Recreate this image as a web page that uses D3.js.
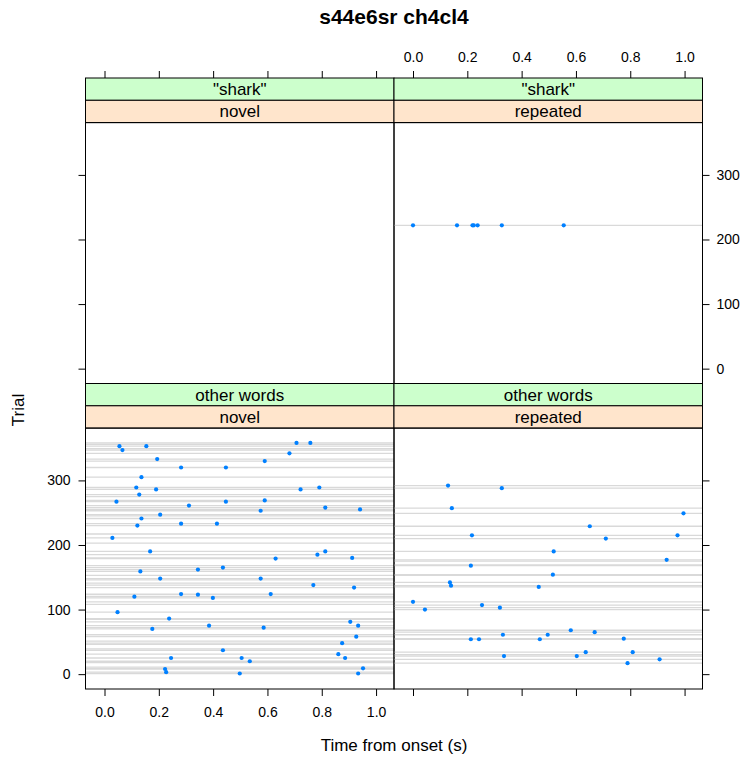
<!DOCTYPE html>
<html>
<head>
<meta charset="utf-8">
<script src="https://cdn.jsdelivr.net/npm/d3@7"></script>
<style>
  body { margin: 0; background: #fff; }
  text { font-family: "Liberation Sans", Arial, Helvetica, sans-serif; }
</style>
</head>
<body>
<svg id="chart" width="749" height="759"></svg>
<script>
// strip labels
var words = ['"shark"', 'other words'];
var conditions = ['novel', 'repeated'];

// axis ticks
var timeTicks = [0, 0.2, 0.4, 0.6, 0.8, 1.0];
var trialTicks = [0, 100, 200, 300];

// trials shown as grey lines, per panel
var novelSharkTrials = [];
var repeatedSharkTrials = [222];
var novelOtherTrials = [1, 3, 8, 9, 11, 18, 20, 25, 31, 37, 39, 46, 48, 51, 58, 61, 70, 72, 75, 81,
    85, 86, 96, 108, 112, 118, 120, 123, 124, 134, 138, 141, 146, 148, 153, 159, 162, 165, 168,
    179, 180, 185, 190, 203, 211, 217, 230, 233, 241, 245, 247, 253, 255, 258, 261, 267, 269,
    275, 278, 286, 289, 305, 320, 330, 333, 342, 347, 349, 353, 356, 358];
var repeatedOtherTrials = [17, 23, 28, 30, 34, 54, 55, 61, 65, 68, 100, 103, 107, 112, 135, 137,
    142, 153, 154, 168, 169, 175, 177, 190, 210, 215, 229, 249, 257, 288, 292];

// spikes: [trial, time from onset]
var novelSharkSpikes = [];
var repeatedSharkSpikes = [[222, 0.0], [222, 0.162], [222, 0.219], [222, 0.224], [222, 0.238],
    [222, 0.327], [222, 0.555]];
var novelOtherSpikes = [[353, 0.055], [347, 0.066], [353, 0.154], [333, 0.194], [320, 0.282],
    [320, 0.447], [305, 0.136], [289, 0.117], [286, 0.190], [278, 0.128], [267, 0.044],
    [267, 0.447], [261, 0.311], [241, 0.136], [247, 0.205], [230, 0.121], [233, 0.282],
    [233, 0.414], [211, 0.029], [190, 0.168], [358, 0.707], [358, 0.758], [342, 0.681],
    [330, 0.590], [286, 0.722], [289, 0.791], [269, 0.590], [258, 0.813], [253, 0.575],
    [255, 0.941], [179, 0.630], [185, 0.784], [190, 0.813], [180, 0.912], [159, 0.132],
    [162, 0.344], [165, 0.436], [148, 0.205], [124, 0.282], [123, 0.344], [120, 0.110],
    [118, 0.399], [96, 0.048], [86, 0.238], [70, 0.176], [75, 0.385], [37, 0.436], [25, 0.245],
    [8, 0.223], [3, 0.227], [1, 0.498], [25, 0.505], [20, 0.535], [148, 0.575], [138, 0.769],
    [134, 0.919], [124, 0.612], [81, 0.905], [75, 0.934], [72, 0.586], [58, 0.927], [48, 0.875],
    [31, 0.861], [25, 0.886], [9, 0.952], [1, 0.934]];
var repeatedOtherSpikes = [[292, 0.129], [288, 0.327], [257, 0.143], [215, 0.217], [190, 0.518],
    [249, 0.996], [229, 0.651], [210, 0.710], [215, 0.974], [177, 0.934], [168, 0.213],
    [154, 0.515], [142, 0.136], [137, 0.140], [135, 0.463], [112, 0.0], [100, 0.044],
    [107, 0.254], [103, 0.320], [54, 0.213], [54, 0.243], [61, 0.331], [54, 0.467], [61, 0.496],
    [28, 0.335], [68, 0.581], [65, 0.669], [55, 0.776], [34, 0.636], [34, 0.809], [28, 0.603],
    [23, 0.908], [17, 0.790]];

function drawChart() {
    var svg = d3.select("#chart");

    // layout
    var padL = 85.5, padR = 702.5, padT = 78, padB = 689;
    var stripH = 22.3;
    var panelW = (padR - padL) / 2;
    var rowH = (padB - padT) / 2;
    var panelH = rowH - 2 * stripH;

    var x = d3.scaleLinear().domain([-0.07, 1.066]).range([0, panelW]);
    var y = d3.scaleLinear().domain([-23, 381]).range([panelH, 0]);

    var panels = [
        {row: 0, col: 0, word: words[0], cond: conditions[0], trials: novelSharkTrials, spikes: novelSharkSpikes},
        {row: 0, col: 1, word: words[0], cond: conditions[1], trials: repeatedSharkTrials, spikes: repeatedSharkSpikes},
        {row: 1, col: 0, word: words[1], cond: conditions[0], trials: novelOtherTrials, spikes: novelOtherSpikes},
        {row: 1, col: 1, word: words[1], cond: conditions[1], trials: repeatedOtherTrials, spikes: repeatedOtherSpikes}
    ];

    panels.forEach(function(p) {
        var px = padL + p.col * panelW;
        var py = padT + p.row * rowH;
        var g = svg.append("g").attr("transform", "translate(" + px + "," + py + ")");

        // strips
        var strips = [{label: p.word, fill: "#ccffcc"}, {label: p.cond, fill: "#ffe5cc"}];
        strips.forEach(function(s, i) {
            g.append("rect")
                .attr("x", 0).attr("y", i * stripH)
                .attr("width", panelW).attr("height", stripH)
                .attr("fill", s.fill).attr("stroke", "#000").attr("stroke-width", 1);
            g.append("text")
                .attr("x", panelW / 2).attr("y", i * stripH + stripH / 2 + 6)
                .attr("text-anchor", "middle")
                .style("font-size", "17px")
                .text(s.label);
        });

        var body = g.append("g").attr("transform", "translate(0," + 2 * stripH + ")");

        body.selectAll("line.trial")
            .data(p.trials)
            .enter().append("line")
            .attr("class", "trial")
            .attr("x1", 0).attr("x2", panelW)
            .attr("y1", function(d) { return y(d); })
            .attr("y2", function(d) { return y(d); })
            .attr("stroke", "#d9d9d9").attr("stroke-width", 1.3);

        body.selectAll("circle")
            .data(p.spikes)
            .enter().append("circle")
            .attr("cx", function(d) { return x(d[1]); })
            .attr("cy", function(d) { return y(d[0]); })
            .attr("r", 2.1)
            .attr("fill", "#0080ff");

        body.append("rect")
            .attr("width", panelW).attr("height", panelH)
            .attr("fill", "none").attr("stroke", "#000").attr("stroke-width", 1);

        // axes, lattice style alternating labels
        var fmt = d3.format(".1f");
        var noLab = function() { return ""; };
        if (p.row === 0) {
            var topAx = d3.axisTop(x).tickValues(timeTicks).tickSize(7).tickPadding(9)
                .tickFormat(p.col === 1 ? fmt : noLab);
            g.append("g").attr("class", "ax").call(topAx);
        } else {
            var botAx = d3.axisBottom(x).tickValues(timeTicks).tickSize(7).tickPadding(11)
                .tickFormat(p.col === 0 ? fmt : noLab);
            body.append("g").attr("class", "ax").attr("transform", "translate(0," + panelH + ")").call(botAx);
        }
        if (p.col === 0) {
            var leftAx = d3.axisLeft(y).tickValues(trialTicks).tickSize(7).tickPadding(8)
                .tickFormat(p.row === 1 ? d3.format("d") : noLab);
            body.append("g").attr("class", "ax").call(leftAx);
        } else {
            var rightAx = d3.axisRight(y).tickValues(trialTicks).tickSize(7).tickPadding(7)
                .tickFormat(p.row === 0 ? d3.format("d") : noLab);
            body.append("g").attr("class", "ax").attr("transform", "translate(" + panelW + ",0)").call(rightAx);
        }
    });

    svg.selectAll(".ax .domain").remove();
    svg.selectAll(".ax text").style("font-size", "14px").attr("fill", "#000")
        .style("font-family", "'Liberation Sans', Arial, sans-serif");
    svg.selectAll(".ax line").attr("stroke", "#000");

    // titles
    svg.append("text")
        .attr("x", (padL + padR) / 2).attr("y", 24)
        .attr("text-anchor", "middle")
        .style("font-size", "21px").style("font-weight", "bold")
        .text("s44e6sr ch4cl4");

    svg.append("text")
        .attr("x", (padL + padR) / 2).attr("y", 751)
        .attr("text-anchor", "middle")
        .style("font-size", "17px")
        .text("Time from onset (s)");

    svg.append("text")
        .attr("transform", "translate(24,410) rotate(-90)")
        .attr("text-anchor", "middle")
        .style("font-size", "17px")
        .text("Trial");
}

drawChart();
</script>
</body>
</html>
